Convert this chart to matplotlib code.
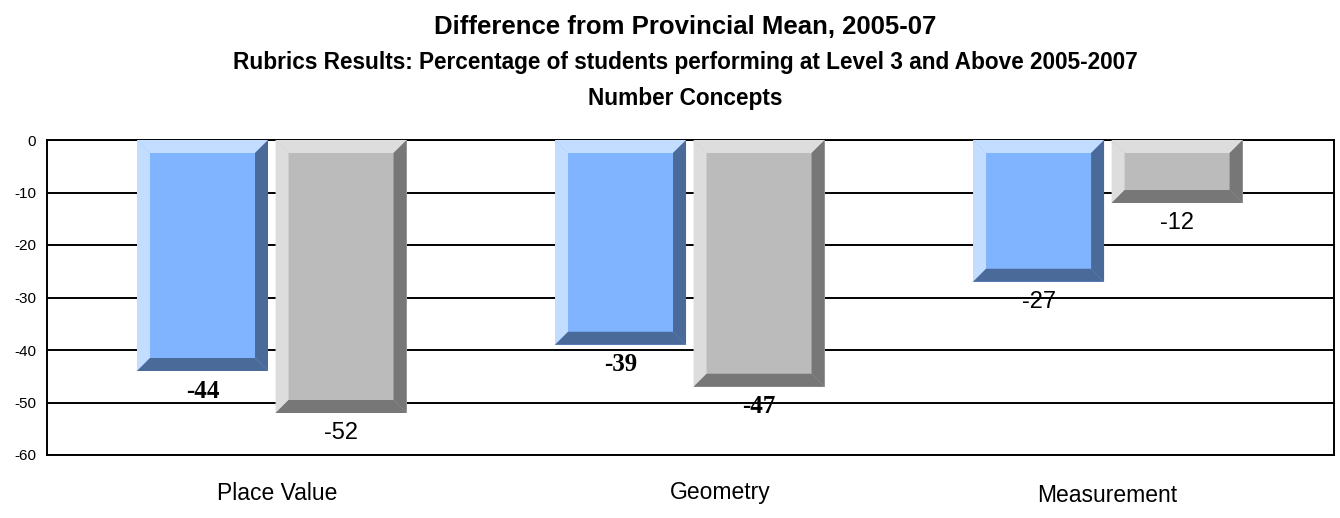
import matplotlib
matplotlib.use("Agg")
import matplotlib.pyplot as plt
from matplotlib.patches import Polygon

# Chart data
categories = ["Place Value", "Geometry", "Measurement"]
school_diff = [-44, -39, -27]      # blue series
board_diff = [-52, -47, -12]       # grey series
y_ticks = [0, -10, -20, -30, -40, -50, -60]

# Palettes: (face, light bevel, dark bevel)
BLUE = ("#80B4FF", "#C2DDFF", "#4A6B9A")
GREY = ("#BBBBBB", "#DDDDDD", "#777777")

W, H = 1340, 518
fig = plt.figure(figsize=(W / 100, H / 100), dpi=100)
ax = fig.add_axes([47 / W, 63 / H, 1287 / W, 315 / H])
ax.set_xlim(-0.5377, 2.541)
ax.set_ylim(-60, 0)

bar_w = 0.3134
offset = 0.1657

# pixels per data unit, used to size the bevel in screen pixels
px_x = ax.bbox.width / (ax.get_xlim()[1] - ax.get_xlim()[0])
px_y = ax.bbox.height / (ax.get_ylim()[1] - ax.get_ylim()[0])
bev_x = 13 / px_x
bev_y = 13 / px_y


def bevel_bar(x, value, palette, label_font):
    face, light, dark = palette
    ax.bar(x, value, bar_w, color=face, zorder=3, linewidth=0)
    x0, x1 = x - bar_w / 2, x + bar_w / 2
    top, bot = 0, value
    polys = [
        ([(x0, top), (x1, top), (x1 - bev_x, top - bev_y), (x0 + bev_x, top - bev_y)], light),
        ([(x0, top), (x0 + bev_x, top - bev_y), (x0 + bev_x, bot + bev_y), (x0, bot)], light),
        ([(x1, top), (x1, bot), (x1 - bev_x, bot + bev_y), (x1 - bev_x, top - bev_y)], dark),
        ([(x0, bot), (x1, bot), (x1 - bev_x, bot + bev_y), (x0 + bev_x, bot + bev_y)], dark),
    ]
    for pts, c in polys:
        ax.add_patch(Polygon(pts, closed=True, facecolor=c, edgecolor="none", zorder=4))
    ax.annotate(f"{value}", (x, value), xytext=(0, -20), textcoords="offset pixels",
                ha="center", va="center", zorder=5, **label_font)


serif_bold = dict(family="Liberation Serif", fontweight="bold", fontsize=18)
sans = dict(family="Liberation Sans", fontsize=17)

school_fonts = [serif_bold, serif_bold, sans]
board_fonts = [sans, serif_bold, sans]

for i, cat in enumerate(categories):
    bevel_bar(i - offset, school_diff[i], BLUE, school_fonts[i])
    bevel_bar(i + offset, board_diff[i], GREY, board_fonts[i])

# Category labels beneath the plot
label_shift = [(5, -38), (30, -38), (-1, -41)]
for i, cat in enumerate(categories):
    ax.annotate(cat, xy=(i, 0), xycoords=ax.get_xaxis_transform(),
                xytext=label_shift[i], textcoords="offset pixels",
                ha="center", va="center", family="Liberation Sans", fontsize=16.5)

ax.set_xticks([])
ax.set_yticks(y_ticks)
ax.set_yticklabels([str(t) for t in y_ticks], family="Liberation Sans", fontsize=11)
ax.tick_params(axis="y", length=0, pad=8)
ax.yaxis.grid(True, color="black", linewidth=1.4)
ax.set_axisbelow(True)
for s in ax.spines.values():
    s.set_color("black")
    s.set_linewidth(1.4)

# Titles
cx = 685 / W
fig.text(cx, 1 - 27 / H, "Difference from Provincial Mean, 2005-07",
         ha="center", va="center", family="Liberation Sans", fontweight="bold", fontsize=18.5)
fig.text(cx, 1 - 63 / H, "Rubrics Results: Percentage of students performing at Level 3 and Above 2005-2007",
         ha="center", va="center", family="Liberation Sans", fontweight="bold", fontsize=16.3)
fig.text(cx, 1 - 98 / H, "Number Concepts",
         ha="center", va="center", family="Liberation Sans", fontweight="bold", fontsize=16.3)

fig.savefig("out.png", dpi=100)
